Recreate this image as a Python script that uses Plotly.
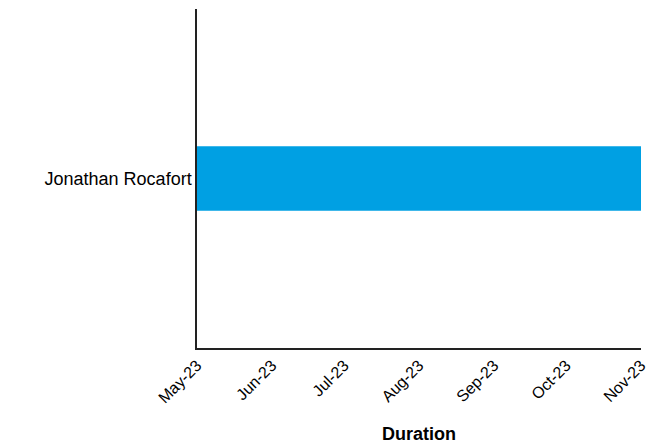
import plotly.graph_objects as go
import pandas as pd

names = ["Jonathan Rocafort"]
starts = ["2023-05-01"]
ends = ["2023-11-01"]

durations = [(pd.Timestamp(e) - pd.Timestamp(s)).total_seconds() * 1000 for s, e in zip(starts, ends)]

fig = go.Figure(go.Bar(
    y=names, x=durations, base=starts, orientation="h",
    marker=dict(color="#00A0E3", line=dict(width=0)), width=0.19,
))
fig.update_layout(
    width=654, height=436,
    margin=dict(l=189, r=21, t=1, b=96),
    paper_bgcolor="white", plot_bgcolor="white",
    font=dict(family="Liberation Sans, Arial, sans-serif", color="#000000"),
    showlegend=False,
)
fig.update_xaxes(
    type="date", range=["2023-05-01", "2023-11-01"],
    tickformat="%b-%y", dtick="M1", tick0="2023-05-01", tickangle=-45,
    showline=True, linecolor="#222222", linewidth=1.5, showgrid=False, zeroline=False,
    ticks="", tickfont=dict(size=16),
    title=dict(text="<b>Duration</b>", font=dict(size=18), standoff=23),
)
fig.update_yaxes(
    range=[-0.5, 0.5],
    showline=True, linecolor="#222222", linewidth=1.5, showgrid=False, zeroline=False,
    ticks="", tickfont=dict(size=18),
)
fig.write_html("out.html")
